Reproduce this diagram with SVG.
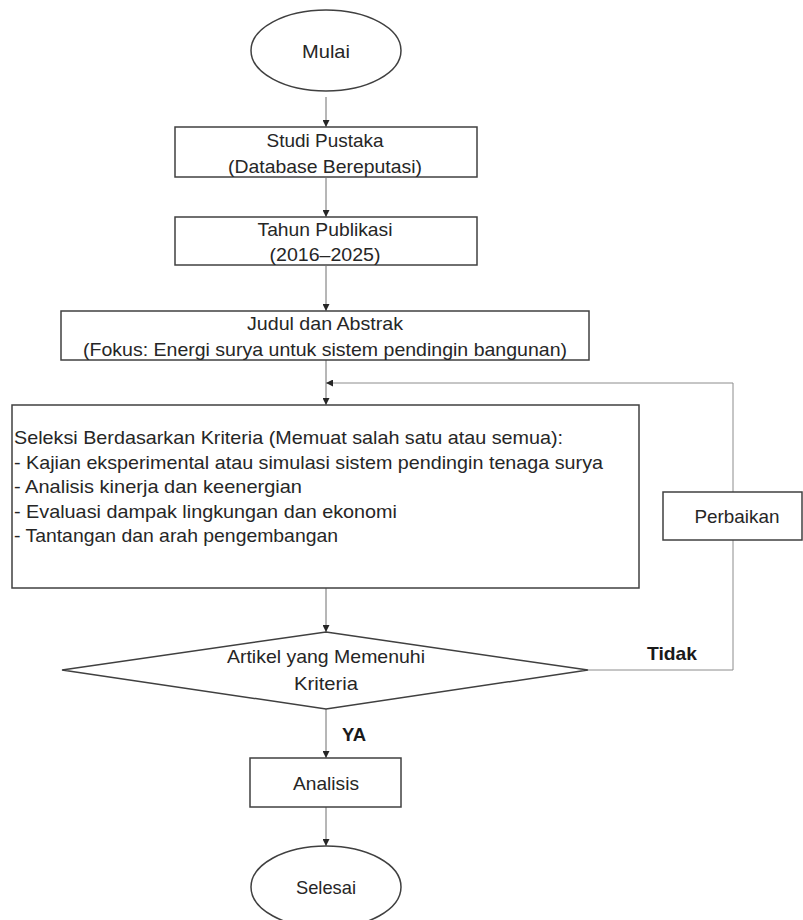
<svg xmlns="http://www.w3.org/2000/svg" width="803" height="920" viewBox="0 0 803 920">
<style>
.shape{fill:#ffffff;stroke:#404040;stroke-width:1.5}
.t{font-family:"Liberation Sans",Arial,sans-serif;font-size:19px;fill:#262626}
.c{text-anchor:middle}
.b{font-weight:bold;fill:#1a1a1a}
.conn{fill:none;stroke:#6e6e6e;stroke-width:1}
.fb{fill:none;stroke:#8c8c8c;stroke-width:1}
</style>
<defs>
<marker id="arr" viewBox="0 0 10 10" refX="10" refY="5" markerWidth="7" markerHeight="7" markerUnits="userSpaceOnUse" orient="auto">
<path d="M0,0 L10,5 L0,10 z" fill="#262626"/>
</marker>
</defs>
<g id="connectors">
<line class="conn" x1="326" y1="97" x2="326" y2="127" marker-end="url(#arr)"/>
<line class="conn" x1="326" y1="178" x2="326" y2="217" marker-end="url(#arr)"/>
<line class="conn" x1="326" y1="266" x2="326" y2="311" marker-end="url(#arr)"/>
<line class="conn" x1="326" y1="360" x2="326" y2="405" marker-end="url(#arr)"/>
<line class="conn" x1="326" y1="588" x2="326" y2="632" marker-end="url(#arr)"/>
<line class="conn" x1="326" y1="709" x2="326" y2="758" marker-end="url(#arr)"/>
<line class="conn" x1="326" y1="807" x2="326" y2="846" marker-end="url(#arr)"/>
<polyline class="fb" points="588,670 733,670 733,540"/>
<polyline class="fb" points="733,492 733,383 326,383" marker-end="url(#arr)"/>
<text class="t b" x="647" y="660" textLength="50" lengthAdjust="spacingAndGlyphs">Tidak</text>
<text class="t b" x="342" y="741" textLength="24" lengthAdjust="spacingAndGlyphs">YA</text>
</g>
<g id="mulai">
<ellipse class="shape" cx="326" cy="50.5" rx="75" ry="40.5"/>
<text class="t c" x="326" y="58" textLength="48" lengthAdjust="spacingAndGlyphs">Mulai</text>
</g>
<g id="studi-pustaka">
<rect class="shape" x="175" y="127" width="302" height="50"/>
<text class="t c" x="325" y="147" textLength="117" lengthAdjust="spacingAndGlyphs">Studi Pustaka</text>
<text class="t c" x="325" y="173" textLength="194" lengthAdjust="spacingAndGlyphs">(Database Bereputasi)</text>
</g>
<g id="tahun-publikasi">
<rect class="shape" x="175" y="217" width="302" height="48"/>
<text class="t c" x="325" y="236" textLength="135" lengthAdjust="spacingAndGlyphs">Tahun Publikasi</text>
<text class="t c" x="325" y="261" textLength="111" lengthAdjust="spacingAndGlyphs">(2016–2025)</text>
</g>
<g id="judul-abstrak">
<rect class="shape" x="61" y="311" width="528" height="49"/>
<text class="t c" x="325" y="330" textLength="156" lengthAdjust="spacingAndGlyphs">Judul dan Abstrak</text>
<text class="t c" x="325" y="356" textLength="484" lengthAdjust="spacingAndGlyphs">(Fokus: Energi surya untuk sistem pendingin bangunan)</text>
</g>
<g id="seleksi">
<rect class="shape" x="12" y="405" width="627" height="183"/>
<text class="t" x="14" y="444" textLength="549" lengthAdjust="spacingAndGlyphs">Seleksi Berdasarkan Kriteria (Memuat salah satu atau semua):</text>
<text class="t" x="14" y="469" textLength="589" lengthAdjust="spacingAndGlyphs">- Kajian eksperimental atau simulasi sistem pendingin tenaga surya</text>
<text class="t" x="14" y="493" textLength="288" lengthAdjust="spacingAndGlyphs">- Analisis kinerja dan keenergian</text>
<text class="t" x="14" y="518" textLength="383" lengthAdjust="spacingAndGlyphs">- Evaluasi dampak lingkungan dan ekonomi</text>
<text class="t" x="14" y="542" textLength="324" lengthAdjust="spacingAndGlyphs">- Tantangan dan arah pengembangan</text>
</g>
<g id="perbaikan">
<rect class="shape" x="663" y="492" width="139" height="48"/>
<text class="t c" x="737" y="523" textLength="85" lengthAdjust="spacingAndGlyphs">Perbaikan</text>
</g>
<g id="artikel-kriteria">
<polygon class="shape" points="326,632 588,670 326,709 62,670"/>
<text class="t c" x="326" y="663" textLength="198" lengthAdjust="spacingAndGlyphs">Artikel yang Memenuhi</text>
<text class="t c" x="326" y="690" textLength="64" lengthAdjust="spacingAndGlyphs">Kriteria</text>
</g>
<g id="analisis">
<rect class="shape" x="250" y="758" width="151" height="49"/>
<text class="t c" x="326" y="790" textLength="66" lengthAdjust="spacingAndGlyphs">Analisis</text>
</g>
<g id="selesai">
<ellipse class="shape" cx="326" cy="887" rx="75" ry="41"/>
<text class="t c" x="326" y="894" textLength="60" lengthAdjust="spacingAndGlyphs">Selesai</text>
</g>
</svg>
